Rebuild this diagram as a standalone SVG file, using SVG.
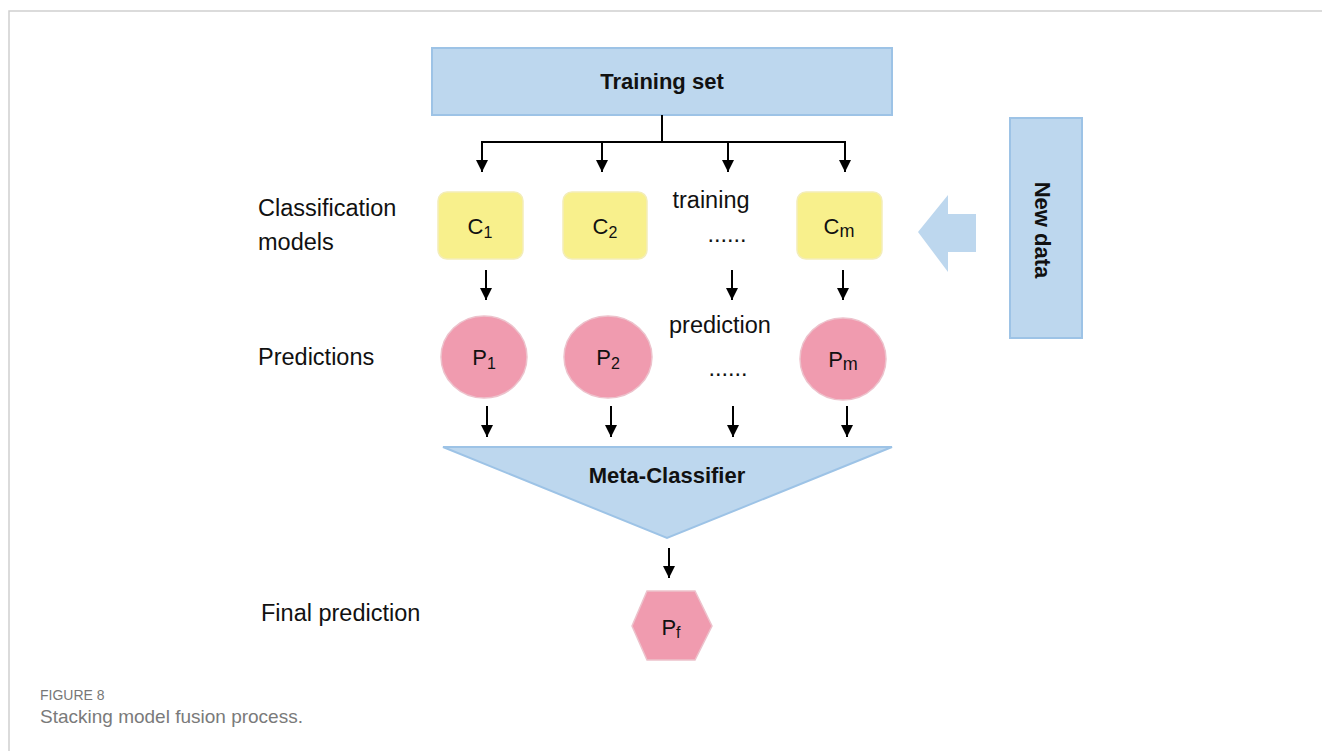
<svg xmlns="http://www.w3.org/2000/svg" width="1322" height="751" viewBox="0 0 1322 751">
  <style>
    .lbl { font-family: "Liberation Sans", Arial, sans-serif; font-size: 23.5px; fill: #111; }
    .bold { font-family: "Liberation Sans", Arial, sans-serif; font-weight: bold; font-size: 22px; fill: #111; }
    .node { font-family: "Liberation Sans", Arial, sans-serif; font-size: 22px; fill: #111; text-anchor: middle; }
    .blue { fill: #BDD7EE; stroke: #9DC3E6; stroke-width: 2; }
    .cbox { fill: #F8F08C; stroke: #F3EDB8; stroke-width: 1.5; }
    .pink { fill: #F09BAF; stroke: #EDC2CC; stroke-width: 1.5; }
    .conn { fill: none; stroke: #000; stroke-width: 2; }
    .cap1 { font-family: "Liberation Sans", Arial, sans-serif; font-size: 14px; fill: #777; }
    .cap2 { font-family: "Liberation Sans", Arial, sans-serif; font-size: 19px; fill: #7a7a7a; }
  </style>
  <defs>
    <marker id="arrow" viewBox="0 0 12 12" refX="12" refY="6" markerWidth="12" markerHeight="12" orient="auto" markerUnits="userSpaceOnUse">
      <path d="M0,0 L12,6 L0,12 z" fill="#000"/>
    </marker>
  </defs>

  <rect width="1322" height="751" fill="#fff"/>
  <!-- figure frame -->
  <path d="M9,751 V11 H1322" fill="none" stroke="#cfcfcf" stroke-width="1.5"/>

  <!-- row labels -->
  <g id="row-labels">
    <text class="lbl" x="258" y="216">Classification</text>
    <text class="lbl" x="258" y="250">models</text>
    <text class="lbl" x="258" y="365">Predictions</text>
    <text class="lbl" x="261" y="621">Final prediction</text>
  </g>

  <g id="training-set">
    <rect class="blue" x="432" y="48" width="460" height="67"/>
    <text class="bold" x="662" y="89" text-anchor="middle">Training set</text>
  </g>

  <g id="c1">
    <rect class="cbox" x="438" y="192" width="85" height="67" rx="9"/>
    <text class="node" x="480" y="234">C<tspan font-size="16" dy="4">1</tspan></text>
  </g>
  <g id="c2">
    <rect class="cbox" x="563" y="192" width="84" height="67" rx="9"/>
    <text class="node" x="605" y="234">C<tspan font-size="16" dy="4">2</tspan></text>
  </g>
  <g id="training-dots">
    <text class="lbl" x="711" y="208" text-anchor="middle">training</text>
    <text class="lbl" x="727" y="242" text-anchor="middle">......</text>
  </g>
  <g id="cm">
    <rect class="cbox" x="797" y="192" width="85" height="67" rx="9"/>
    <text class="node" x="839" y="234">C<tspan font-size="18" dy="3">m</tspan></text>
  </g>

  <g id="p1">
    <ellipse class="pink" cx="484" cy="357" rx="43" ry="41"/>
    <text class="node" x="484" y="365">P<tspan font-size="16" dy="4">1</tspan></text>
  </g>
  <g id="p2">
    <ellipse class="pink" cx="608" cy="357" rx="44" ry="41"/>
    <text class="node" x="608" y="365">P<tspan font-size="16" dy="4">2</tspan></text>
  </g>
  <g id="prediction-dots">
    <text class="lbl" x="720" y="333" text-anchor="middle" font-size="24">prediction</text>
    <text class="lbl" x="728" y="376" text-anchor="middle">......</text>
  </g>
  <g id="pm">
    <ellipse class="pink" cx="843" cy="359" rx="43" ry="41"/>
    <text class="node" x="843" y="367">P<tspan font-size="18" dy="3">m</tspan></text>
  </g>

  <g id="meta-classifier">
    <path class="blue" d="M443,447 L892,447 L667,538 Z"/>
    <text class="bold" x="667" y="483" text-anchor="middle" font-size="23">Meta-Classifier</text>
  </g>

  <g id="pf">
    <path class="pink" d="M647,591 L695,591 L712,626 L695,660 L647,660 L632,626 Z"/>
    <text class="node" x="671" y="635">P<tspan font-size="16" dy="3">f</tspan></text>
  </g>

  <g id="new-data">
    <rect class="blue" x="1010" y="118" width="72" height="220"/>
    <text class="bold" transform="translate(1042,230) rotate(90)" x="0" y="0" text-anchor="middle" dominant-baseline="central" font-size="24">New data</text>
    <path d="M918,232 L948,195 L948,214 L976,214 L976,252 L948,252 L948,272 Z" fill="#BDD7EE"/>
  </g>

  <g id="connectors">
    <path class="conn" d="M662,115 V142 M481,142 H846"/>
    <path class="conn" d="M482,142 V172" marker-end="url(#arrow)"/>
    <path class="conn" d="M602,142 V172" marker-end="url(#arrow)"/>
    <path class="conn" d="M728,142 V172" marker-end="url(#arrow)"/>
    <path class="conn" d="M845,142 V172" marker-end="url(#arrow)"/>

    <path class="conn" d="M486,270 V300" marker-end="url(#arrow)"/>
    <path class="conn" d="M732,270 V300" marker-end="url(#arrow)"/>
    <path class="conn" d="M843,270 V300" marker-end="url(#arrow)"/>

    <path class="conn" d="M487,406 V437" marker-end="url(#arrow)"/>
    <path class="conn" d="M611,406 V437" marker-end="url(#arrow)"/>
    <path class="conn" d="M733,406 V437" marker-end="url(#arrow)"/>
    <path class="conn" d="M847,406 V437" marker-end="url(#arrow)"/>

    <path class="conn" d="M669,548 V578" marker-end="url(#arrow)"/>
  </g>

  <g id="caption">
    <text class="cap1" x="40" y="700">FIGURE 8</text>
    <text class="cap2" x="40" y="723">Stacking model fusion process.</text>
  </g>
</svg>
